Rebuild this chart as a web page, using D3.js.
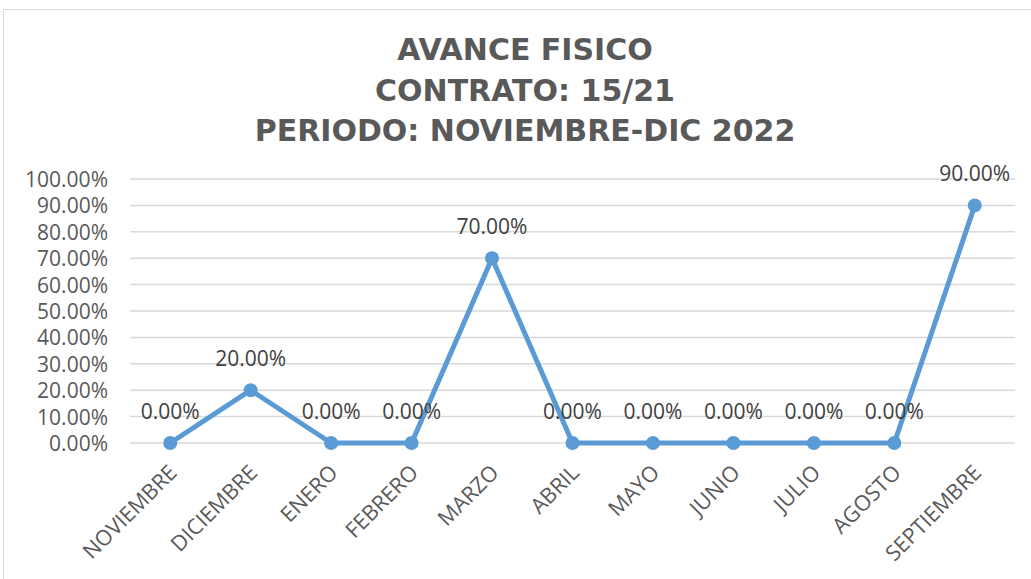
<!DOCTYPE html>
<html>
<head>
<meta charset="utf-8">
<script src="https://cdn.jsdelivr.net/npm/d3@7"></script>
<style>
    body { margin: 0; background: #fff; }
    text { font-family: "Open Sans", sans-serif; }
</style>
</head>
<body>
<svg id="chart"></svg>
<script>
let months = ["NOVIEMBRE", "DICIEMBRE", "ENERO", "FEBRERO", "MARZO", "ABRIL",
    "MAYO", "JUNIO", "JULIO", "AGOSTO", "SEPTIEMBRE"];
let avance = [0, 0.20, 0, 0, 0.70, 0, 0, 0, 0, 0, 0.90];
let yTicks = [0, 0.1, 0.2, 0.3, 0.4, 0.5, 0.6, 0.7, 0.8, 0.9, 1.0];
let titleLines = ["AVANCE FISICO", "CONTRATO: 15/21", "PERIODO: NOVIEMBRE-DIC 2022"];

let svgW = 1031, svgH = 579;
let margin = { top: 179, right: 16, bottom: 136, left: 130 };

let svg = d3.select("#chart")
    .attr("width", svgW)
    .attr("height", svgH)

// chart border
svg.append("rect")
    .attr("x", 3.5)
    .attr("y", 9.5)
    .attr("width", svgW + 10)
    .attr("height", svgH + 10)
    .attr("fill", "none")
    .attr("stroke", "#d9d9d9")

let xScale = d3.scaleBand()
    .domain(months)
    .range([margin.left, svgW - margin.right])

let yScale = d3.scaleLinear()
    .domain([0, 1])
    .range([svgH - margin.bottom, margin.top])

//gridlines
svg.append("g")
    .selectAll("line")
    .data(yTicks)
    .enter()
    .append("line")
    .attr("x1", margin.left)
    .attr("x2", svgW - margin.right)
    .attr("y1", d => yScale(d))
    .attr("y2", d => yScale(d))
    .attr("stroke", "#d9d9d9")
    .attr("stroke-width", 1.5)

let yAxis = d3.axisLeft(yScale)
    .tickValues(yTicks)
    .tickFormat(d3.format(".2%"))
    .tickSize(0)
    .tickPadding(22)

svg.append("g")
    .attr("class", "y axis")
    .attr("transform", "translate(" + margin.left + ",0)")
    .call(yAxis)
    .call(g => g.select(".domain").remove())
    .selectAll("text")
    .style("font-size", "21px")
    .attr("fill", "#595959")
    .attr("dy", "0.36em")

let xAxis = d3.axisBottom(xScale)
    .tickSize(0)
    .tickPadding(0)

svg.append("g")
    .attr("class", "x axis")
    .attr("transform", "translate(0," + (svgH - margin.bottom) + ")")
    .call(xAxis)
    .call(g => g.select(".domain").remove())
    .selectAll("text")
    .style("font-size", "21.5px")
    .attr("fill", "#595959")
    .attr("text-anchor", "end")
    .attr("dy", null)
    .attr("y", 0)
    .attr("transform", "translate(8,31) rotate(-45)")

let line = d3.line()
    .x((d, i) => xScale(months[i]) + xScale.bandwidth() / 2)
    .y(d => yScale(d))

svg.append("path")
    .datum(avance)
    .attr("d", line)
    .attr("fill", "none")
    .attr("stroke", "#5b9bd5")
    .attr("stroke-width", 5)
    .attr("stroke-linejoin", "round")

svg.append("g")
    .selectAll("circle")
    .data(avance)
    .enter()
    .append("circle")
    .attr("cx", (d, i) => xScale(months[i]) + xScale.bandwidth() / 2)
    .attr("cy", d => yScale(d))
    .attr("r", 7)
    .attr("fill", "#5b9bd5")

svg.append("g")
    .selectAll("text")
    .data(avance)
    .enter()
    .append("text")
    .attr("x", (d, i) => xScale(months[i]) + xScale.bandwidth() / 2)
    .attr("y", d => yScale(d) - 32)
    .attr("dy", "0.36em")
    .attr("text-anchor", "middle")
    .style("font-size", "21px")
    .attr("fill", "#404040")
    .text(d => d3.format(".2%")(d))

svg.append("g")
    .selectAll("text")
    .data(titleLines)
    .enter()
    .append("text")
    .attr("x", 525)
    .attr("y", (d, i) => 60 + i * 40.5)
    .attr("text-anchor", "middle")
    .style("font-family", "'DejaVu Sans', sans-serif")
    .style("font-size", "30px")
    .style("font-weight", "bold")
    .attr("fill", "#595959")
    .text(d => d)
</script>
</body>
</html>
